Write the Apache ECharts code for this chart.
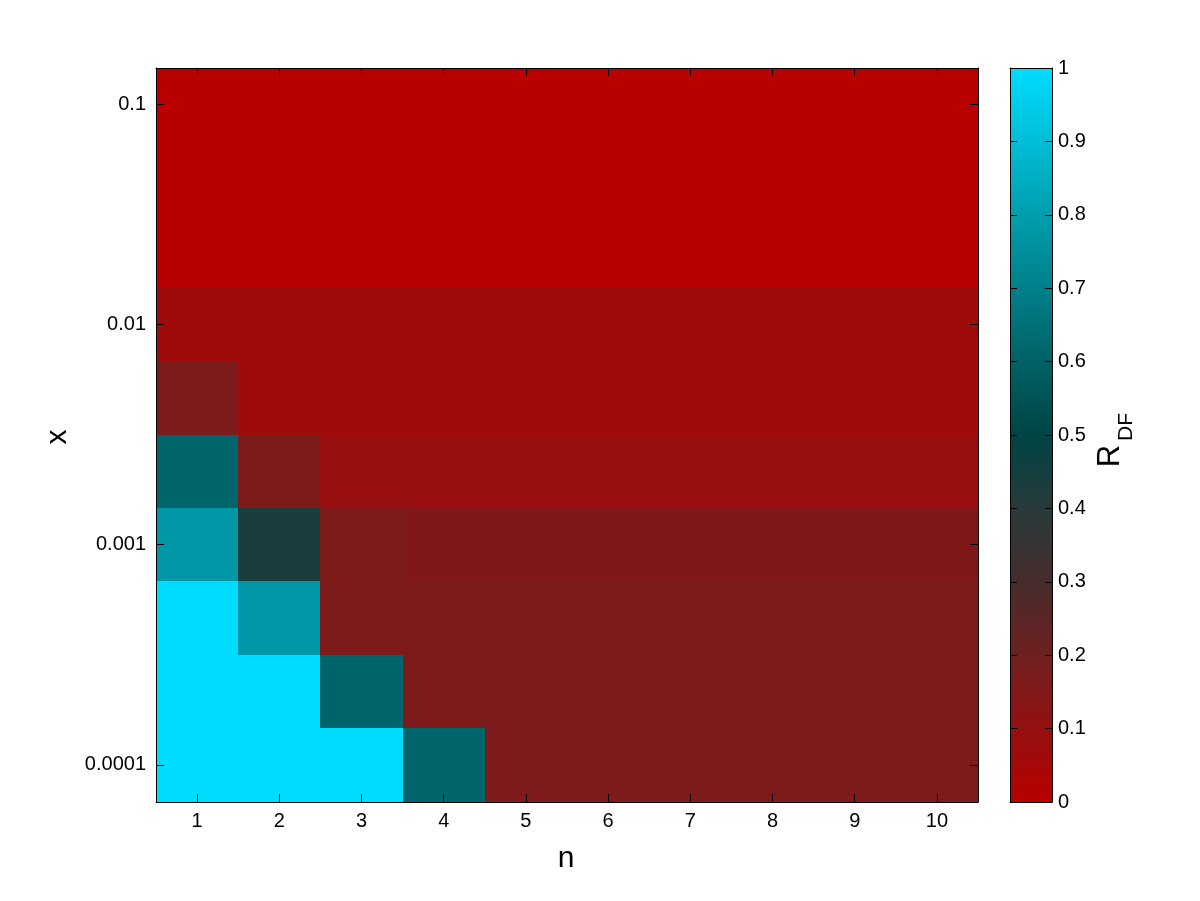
<!DOCTYPE html>
<html>
<head>
<meta charset="utf-8">
<script src="https://cdn.jsdelivr.net/npm/echarts@6/dist/echarts.min.js"></script>
<style>
  html, body { margin: 0; padding: 0; background: #ffffff; }
  #chart { width: 1200px; height: 901px; }
</style>
</head>
<body>
<div id="chart"></div>
<script>
// n categories (x axis)
const nLabels = ['1', '2', '3', '4', '5', '6', '7', '8', '9', '10'];
// row boundaries along the log "x" axis, bottom to top
const xEdges = [0.0000679, 0.0001466, 0.0003166, 0.000682, 0.00147, 0.003145, 0.00675, 0.01462, 0.1457];
// R_DF values per row (bottom row first), one value per n
const row1 = [1.00, 1.00, 1.00, 0.61, 0.16, 0.16, 0.16, 0.16, 0.16, 0.16];
const row2 = [1.00, 1.00, 0.61, 0.16, 0.16, 0.16, 0.16, 0.16, 0.16, 0.16];
const row3 = [1.00, 0.78, 0.16, 0.16, 0.16, 0.16, 0.16, 0.16, 0.16, 0.16];
const row4 = [0.78, 0.43, 0.16, 0.15, 0.15, 0.15, 0.15, 0.15, 0.15, 0.15];
const row5 = [0.61, 0.16, 0.085, 0.085, 0.085, 0.085, 0.085, 0.085, 0.085, 0.085];
const row6 = [0.16, 0.07, 0.07, 0.07, 0.07, 0.07, 0.07, 0.07, 0.07, 0.07];
const row7 = [0.07, 0.07, 0.07, 0.07, 0.07, 0.07, 0.07, 0.07, 0.07, 0.07];
const row8 = [0.00, 0.00, 0.00, 0.00, 0.00, 0.00, 0.00, 0.00, 0.00, 0.00];
const rows = [row1, row2, row3, row4, row5, row6, row7, row8];
// colour bar ticks
const cbTicks = [0, 0.1, 0.2, 0.3, 0.4, 0.5, 0.6, 0.7, 0.8, 0.9, 1];

const palette = ['#b80000', '#941010', '#6e2020', '#462c2c', '#283a3a', '#004444',
                 '#006266', '#00808a', '#009eae', '#00bed6', '#00dcff'];

const heatData = [];
rows.forEach((r, ri) => {
  r.forEach((v, i) => {
    heatData.push([i, xEdges[ri], xEdges[ri + 1], v]);
  });
});

const FONT = 'Liberation Sans, Arial, sans-serif';
const black = '#000000';
const LABEL_SIZE = 20;

const chart = echarts.init(document.getElementById('chart'), null, { renderer: 'canvas' });

const gridMain = { left: 156, right: 222, top: 68, bottom: 99, outerBoundsMode: 'none', containLabel: false };
const gridBar = { left: 1010, right: 148, top: 68, bottom: 99, outerBoundsMode: 'none', containLabel: false };

function lineAxisCommon() {
  return {
    axisLine: { show: true, onZero: false, lineStyle: { color: black, width: 1 } },
    splitLine: { show: false },
    minorTick: { show: false },
    minorSplitLine: { show: false },
    z: 10
  };
}

const option = {
  backgroundColor: '#ffffff',
  animation: false,
  grid: [gridMain, gridBar],
  visualMap: {
    type: 'continuous', show: false, min: 0, max: 1, dimension: 3, seriesIndex: 0,
    inRange: { color: palette }
  },
  xAxis: [
    Object.assign(lineAxisCommon(), {
      type: 'category', gridIndex: 0, data: nLabels, position: 'bottom', boundaryGap: true,
      axisTick: { show: true, inside: true, alignWithLabel: true, interval: 0, length: 8, lineStyle: { color: black, width: 1 } },
      axisLabel: { show: true, interval: 0, color: black, fontSize: LABEL_SIZE, fontFamily: FONT, margin: 9 }
    }),
    Object.assign(lineAxisCommon(), {
      type: 'category', gridIndex: 0, data: nLabels, position: 'top', boundaryGap: true,
      axisTick: { show: true, inside: true, alignWithLabel: true, interval: 0, length: 8, lineStyle: { color: black, width: 1 } },
      axisLabel: { show: false }
    }),
    Object.assign(lineAxisCommon(), {
      type: 'value', gridIndex: 1, min: 0, max: 1, position: 'bottom',
      axisTick: { show: false }, axisLabel: { show: false }
    }),
    Object.assign(lineAxisCommon(), {
      type: 'value', gridIndex: 1, min: 0, max: 1, position: 'top',
      axisTick: { show: false }, axisLabel: { show: false }
    })
  ],
  yAxis: [
    Object.assign(lineAxisCommon(), {
      type: 'log', logBase: 10, gridIndex: 0, position: 'left',
      min: xEdges[0], max: xEdges[xEdges.length - 1],
      axisTick: { show: true, inside: true, length: 8, lineStyle: { color: black, width: 1 } },
      axisLabel: {
        show: true, color: black, fontSize: LABEL_SIZE, fontFamily: FONT, margin: 10,
        showMinLabel: false, showMaxLabel: false,
        formatter: v => String(Number(Number(v).toPrecision(3)))
      }
    }),
    Object.assign(lineAxisCommon(), {
      type: 'log', logBase: 10, gridIndex: 0, position: 'right',
      min: xEdges[0], max: xEdges[xEdges.length - 1],
      axisTick: { show: true, inside: true, length: 8, lineStyle: { color: black, width: 1 } },
      axisLabel: { show: false }
    }),
    Object.assign(lineAxisCommon(), {
      type: 'value', gridIndex: 1, position: 'right',
      min: cbTicks[0], max: cbTicks[cbTicks.length - 1], interval: 0.1,
      axisTick: { show: true, inside: true, length: 7, lineStyle: { color: black, width: 1 } },
      axisLabel: {
        show: true, color: black, fontSize: LABEL_SIZE, fontFamily: FONT, margin: 6,
        formatter: v => String(Math.round(v * 10) / 10)
      }
    }),
    Object.assign(lineAxisCommon(), {
      type: 'value', gridIndex: 1, position: 'left',
      min: cbTicks[0], max: cbTicks[cbTicks.length - 1], interval: 0.1,
      axisTick: { show: true, inside: true, length: 7, lineStyle: { color: black, width: 1 } },
      axisLabel: { show: false }
    })
  ],
  series: [
    {
      type: 'custom',
      xAxisIndex: 0, yAxisIndex: 0,
      data: heatData,
      encode: { x: 0, y: [1, 2] },
      z: 1,
      renderItem: function (params, api) {
        const c = api.value(0);
        const lo = api.value(1);
        const hi = api.value(2);
        const pTop = api.coord([c, hi]);
        const pBot = api.coord([c, lo]);
        const w = api.size([1, 0])[0];
        const x0 = Math.round(pTop[0] - w / 2);
        const x1 = Math.round(pTop[0] + w / 2);
        const y0 = Math.round(pTop[1]);
        const y1 = Math.round(pBot[1]);
        return {
          type: 'rect',
          shape: { x: x0, y: y0, width: x1 - x0, height: y1 - y0 },
          style: { fill: api.visual('color'), stroke: null },
          silent: true
        };
      }
    },
    {
      type: 'custom',
      xAxisIndex: 2, yAxisIndex: 2,
      data: [[0, 0, 1, 1]],
      encode: { x: [0, 3], y: [1, 2] },
      z: 1,
      renderItem: function (params, api) {
        const p1 = api.coord([api.value(0), api.value(2)]);
        const p2 = api.coord([api.value(3), api.value(1)]);
        return {
          type: 'rect',
          shape: { x: p1[0], y: p1[1], width: p2[0] - p1[0], height: p2[1] - p1[1] },
          style: {
            fill: {
              type: 'linear', x: 0, y: 1, x2: 0, y2: 0, global: false,
              colorStops: palette.map((col, i) => ({ offset: i / (palette.length - 1), color: col }))
            },
            stroke: null
          },
          silent: true
        };
      }
    }
  ],
  graphic: [
    {
      type: 'text', x: 566, y: 859, silent: true,
      style: { text: 'n', fontSize: 30, fontFamily: FONT, fill: black, align: 'center', verticalAlign: 'middle' }
    },
    {
      type: 'text', x: 58, y: 437, rotation: Math.PI / 2, silent: true,
      style: { text: 'x', fontSize: 30, fontFamily: FONT, fill: black, align: 'center', verticalAlign: 'middle' }
    },
    {
      type: 'text', x: 1110, y: 456, rotation: Math.PI / 2, silent: true,
      style: { text: 'R', fontSize: 31, fontFamily: FONT, fill: black, align: 'center', verticalAlign: 'middle' }
    },
    {
      type: 'text', x: 1126, y: 427, rotation: Math.PI / 2, silent: true,
      style: { text: 'DF', fontSize: 21, fontFamily: FONT, fill: black, align: 'center', verticalAlign: 'middle' }
    }
  ]
};

chart.setOption(option);
</script>
</body>
</html>
